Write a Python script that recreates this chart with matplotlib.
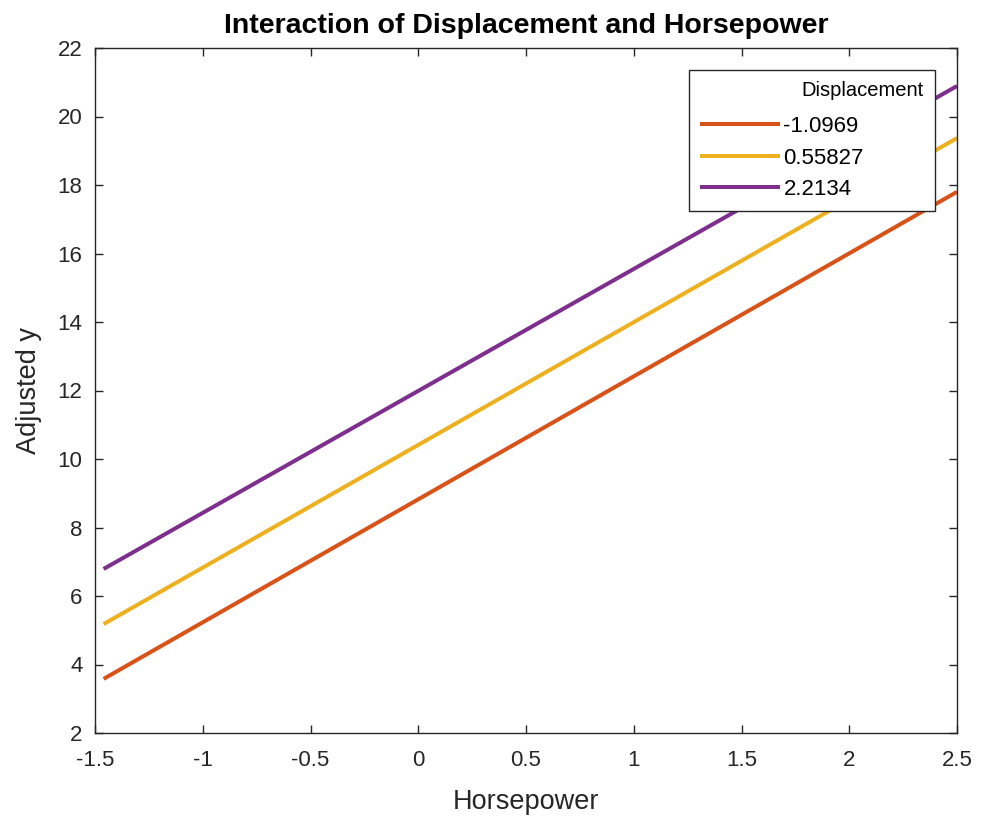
import matplotlib
matplotlib.use("Agg")
import matplotlib.pyplot as plt
import numpy as np

plt.rcParams['font.family'] = ['Liberation Sans', 'DejaVu Sans']

# horsepower range (standardized) and adjusted response for each displacement level
hp = [-1.46, 2.5]
y_low = [3.58, 17.80]
y_mid = [5.18, 19.37]
y_high = [6.79, 20.89]
disp_labels = ['-1.0969', '0.55827', '2.2134']
colors = ['#D95319', '#EDB120', '#7E2F8E']

fig = plt.figure(figsize=(9.81, 8.17), dpi=100)
ax = fig.add_axes([95/981, 1-733/817, (957-95)/981, (733-48)/817])

for yy, lab, c in zip([y_low, y_mid, y_high], disp_labels, colors):
    ax.plot(hp, yy, color=c, lw=2.9, label=lab, solid_capstyle='butt')

ax.set_xlim(-1.5, 2.5)
ax.set_ylim(2, 22)
ax.set_xticks(np.arange(-1.5, 2.51, 0.5))
ax.set_xticklabels(['-1.5', '-1', '-0.5', '0', '0.5', '1', '1.5', '2', '2.5'])
ax.set_yticks(np.arange(2, 23, 2))

gray = '#262626'
ax.tick_params(direction='in', length=6, width=1, colors=gray, labelsize=16,
               top=True, right=True)
ax.tick_params(axis='x', pad=12)
ax.tick_params(axis='y', pad=9)
for s in ax.spines.values():
    s.set_color(gray)
    s.set_linewidth(1)

ax.set_xlabel('Horsepower', fontsize=19.5, color=gray, labelpad=13)
ax.set_ylabel('Adjusted y', fontsize=19.5, color=gray, labelpad=11)
ax.set_title('Interaction of Displacement and Horsepower', fontsize=20.5,
             fontweight='bold', pad=11)

# legend box stretched to the width of the reference box
lx0 = (689 - 95) / 862
lx1 = (935 - 95) / 862
ly1 = (733 - 70) / 685
ly0 = (733 - 206) / 685
leg = ax.legend(title='Displacement', loc='upper right',
                bbox_to_anchor=(lx0, ly0, lx1 - lx0, ly1 - ly0), mode='expand',
                borderaxespad=0, fontsize=16, title_fontsize=14.5, frameon=True,
                fancybox=False, edgecolor=gray, framealpha=1, handlelength=3.6,
                handletextpad=0.15, borderpad=0.5, labelspacing=0.47,
                alignment='right')
leg.get_frame().set_linewidth(1)
# a bit more room between the legend title and the first entry
leg._legend_box.sep = 0.47 * 16 + 4

fig.savefig('out.png', dpi=100)
